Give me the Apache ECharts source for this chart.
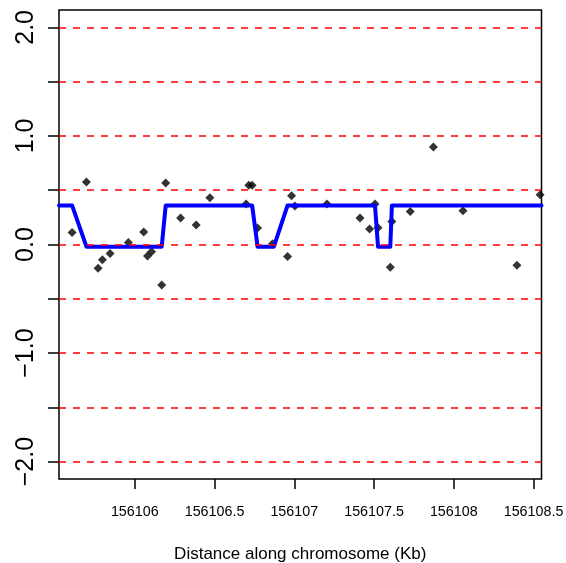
<!DOCTYPE html>
<html>
<head>
<meta charset="utf-8">
<script src="https://cdn.jsdelivr.net/npm/echarts@6/dist/echarts.min.js"></script>
<style>
  html, body { margin: 0; padding: 0; background: #fff; }
  #chart { width: 566px; height: 563px; }
</style>
</head>
<body>
<div id="chart"></div>
<script>
// Probe positions (Kb) and their log-ratio values
const probeKb = [156105.607, 156105.697, 156105.770, 156105.797, 156105.845, 156105.960,
  156106.056, 156106.080, 156106.105, 156106.169, 156106.194, 156106.287, 156106.385,
  156106.471, 156106.698, 156106.715, 156106.736, 156106.770, 156106.864, 156106.958,
  156106.983, 156107.004, 156107.205, 156107.412, 156107.472, 156107.506, 156107.525,
  156107.602, 156107.612, 156107.727, 156107.872, 156108.058, 156108.396, 156108.541];
const logRatio = [0.111, 0.576, -0.218, -0.141, -0.083, 0.018,
  0.114, -0.107, -0.067, -0.372, 0.567, 0.244, 0.179,
  0.431, 0.373, 0.545, 0.545, 0.151, 0.006, -0.111,
  0.450, 0.355, 0.373, 0.244, 0.142, 0.373, 0.154,
  -0.209, 0.212, 0.305, 0.899, 0.311, -0.190, 0.459];

// Segmented mean (fitted copy-number level) along the region
const segKb = [156105.525, 156105.607, 156105.697, 156106.169, 156106.194, 156106.736,
  156106.770, 156106.872, 156106.958, 156107.506, 156107.525, 156107.602, 156107.612, 156108.55];
const segMean = [0.36, 0.36, -0.02, -0.02, 0.36, 0.36,
  -0.02, -0.02, 0.36, 0.36, -0.02, -0.02, 0.36, 0.36];

// Axis ticks / reference levels
const xTicks = [156106, 156106.5, 156107, 156107.5, 156108, 156108.5];
const yTicks = [-2, -1.5, -1, -0.5, 0, 0.5, 1, 1.5, 2];
const yLabels = [-2, -1, 0, 1, 2];
const refLevels = [-2, -1.5, -1, -0.5, 0, 0.5, 1, 1.5, 2];

const xMin = 156105.525, xMax = 156108.55;
const yMin = -2.16, yMax = 2.16;

const FONT = '"Liberation Sans", Arial, Helvetica, sans-serif';

const chart = echarts.init(document.getElementById('chart'), null, { renderer: 'canvas' });

const fmtY = v => {
  const s = Math.abs(v).toFixed(1);
  return v < 0 ? '\u2212' + s : s;
};

chart.setOption({
  animation: false,
  backgroundColor: '#ffffff',
  grid: {
    left: 59, top: 10, right: 24.5, bottom: 84,
    outerBoundsMode: 'none', containLabel: false,
    show: true, borderColor: '#000', borderWidth: 1.5, backgroundColor: 'transparent'
  },
  xAxis: {
    type: 'value', min: xMin, max: xMax, scale: true,
    name: 'Distance along chromosome (Kb)',
    nameLocation: 'middle', nameGap: 67,
    nameTextStyle: { fontFamily: FONT, fontSize: 17, color: '#000' },
    axisLine: { show: false, onZero: false },
    axisTick: { show: true, inside: false, length: 10, customValues: xTicks,
      lineStyle: { color: '#000', width: 1.5 } },
    axisLabel: { show: true, customValues: xTicks, margin: 26,
      fontFamily: FONT, fontSize: 14.3, color: '#000',
      formatter: v => String(v) },
    splitLine: { show: false }
  },
  yAxis: {
    type: 'value', min: yMin, max: yMax,
    axisLine: { show: false, onZero: false },
    axisTick: { show: true, inside: false, length: 11, customValues: yTicks,
      lineStyle: { color: '#000', width: 1.5 } },
    axisLabel: { show: true, customValues: yLabels, rotate: 90, margin: 20,
      fontFamily: FONT, fontSize: 25, color: '#000', formatter: fmtY },
    splitLine: { show: false }
  },
  series: [
    {
      // horizontal dashed reference levels
      type: 'line', data: [], z: 1, silent: true,
      markLine: {
        silent: true, symbol: ['none', 'none'], label: { show: false },
        lineStyle: { color: '#ff0000', type: [7, 7], width: 1.5 },
        emphasis: { disabled: true },
        data: refLevels.map(v => ({ yAxis: v }))
      }
    },
    {
      type: 'scatter', z: 2, symbol: 'diamond', symbolSize: [9, 9],
      itemStyle: { color: '#000' },
      data: probeKb.map((x, i) => [x, logRatio[i]])
    },
    {
      type: 'line', z: 3, showSymbol: false, symbol: 'none',
      lineStyle: { color: '#0000ff', width: 4, join: 'round', cap: 'round' },
      data: segKb.map((x, i) => [x, segMean[i]])
    }
  ]
});
</script>
</body>
</html>
